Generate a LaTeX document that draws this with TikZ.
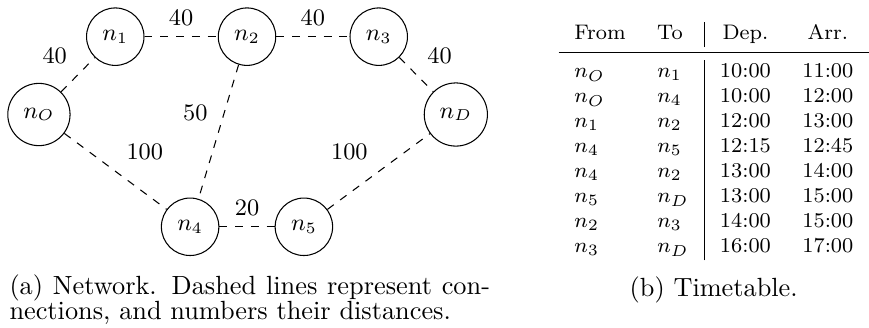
\documentclass[tikz,border=0pt]{standalone}
\usepackage{booktabs}
\begin{document}
\begin{tikzpicture}[font=\small,
  stop/.style={draw, circle, inner sep=4pt},
  link/.style={dashed},
  dist/.style={inner sep=4pt}]
\useasboundingbox (0,0) rectangle (11.61,-4.37);

\node[stop] (nO) at (0.52,-1.53) {$n_O$};
\node[stop] (n1) at (1.54,-0.49) {$n_1$};
\node[stop] (n2) at (3.30,-0.49) {$n_2$};
\node[stop] (n3) at (5.06,-0.49) {$n_3$};
\node[stop] (nD) at (6.09,-1.53) {$n_D$};
\node[stop] (n4) at (2.54,-3.03) {$n_4$};
\node[stop] (n5) at (4.06,-3.03) {$n_5$};

\draw[link] (nO) -- node[dist, above left] (dO1) {40} (n1);
\draw[link] (n1) -- node[dist, above] (d12) {40} (n2);
\draw[link] (n2) -- node[dist, above] (d23) {40} (n3);
\draw[link] (n3) -- node[dist, above right] (d3D) {40} (nD);
\draw[link] (n2) -- node[dist, above left] (d24) {50} (n4);
\draw[link] (nO) -- node[dist, above right] (dO4) {100} (n4);
\draw[link] (n5) -- node[dist, above left] (d5D) {100} (nD);
\draw[link] (n4) -- node[dist, above] (d45) {20} (n5);

\node[anchor=north west, inner sep=0pt, font=\footnotesize] (tt) at (7.457,-0.29) {%
\begin{tabular}{ll|cc}
From & To & Dep. & Arr.\\
\midrule
$n_O$ & $n_1$ & 10:00 & 11:00\\
$n_O$ & $n_4$ & 10:00 & 12:00\\
$n_1$ & $n_2$ & 12:00 & 13:00\\
$n_4$ & $n_5$ & 12:15 & 12:45\\
$n_4$ & $n_2$ & 13:00 & 14:00\\
$n_5$ & $n_D$ & 13:00 & 15:00\\
$n_2$ & $n_3$ & 14:00 & 15:00\\
$n_3$ & $n_D$ & 16:00 & 17:00
\end{tabular}};

\node[anchor=north west, inner sep=0pt, text width=6.42cm, align=justify,
  font={\fontsize{10pt}{9.5pt}\selectfont}] (capa) at (0.12,-3.67)
{(a) Network. Dashed lines represent con\-nections, and numbers their distances.};
\node[anchor=base, inner sep=0pt, font=\normalsize] (capb) at (9.535,-3.956) {(b) Timetable.};
\end{tikzpicture}
\end{document}
